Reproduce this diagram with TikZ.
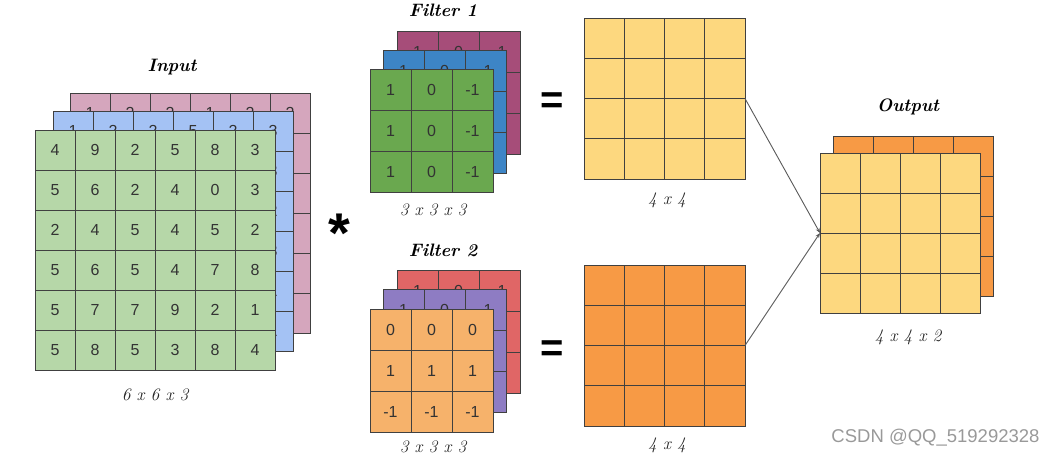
\documentclass[tikz,border=0pt]{standalone}
\usepackage{fontspec}
\setsansfont{Liberation Sans}
\usetikzlibrary{arrows.meta}
\definecolor{ingreen}{HTML}{B6D7A8}
\definecolor{inblue}{HTML}{A4C2F4}
\definecolor{inpink}{HTML}{D5A6BD}
\definecolor{fgreen}{HTML}{6AA84F}
\definecolor{fblue}{HTML}{3D85C6}
\definecolor{fmagenta}{HTML}{A64D79}
\definecolor{forange}{HTML}{F6B26B}
\definecolor{fpurple}{HTML}{8E7CC3}
\definecolor{fred}{HTML}{E06666}
\definecolor{mapyellow}{HTML}{FDD87F}
\definecolor{maporange}{HTML}{F79A45}

% one square layer: name, left, top, cells per side, cell size, fill
\newcommand{\gridlayer}[6]{%
  \node[layer, fill=#6, minimum size={#4*#5}, anchor=north west] (#1) at (#2,#3) {};
  \pgfmathtruncatemacro{\lastline}{#4-1}
  \foreach \k in {1,...,\lastline}{
    \draw[cellline] ({#2+\k*#5},#3) -- ({#2+\k*#5},{#3+#4*#5});
    \draw[cellline] (#2,{#3+\k*#5}) -- ({#2+#4*#5},{#3+\k*#5});
  }
}
% numbers of a layer, row by row: name, left, top, cells per side, cell size, list
\newcommand{\gridvalues}[6]{%
  \foreach \v [count=\j from 0] in {#6}{
    \pgfmathtruncatemacro{\cellrow}{floor(\j/#4)}
    \pgfmathtruncatemacro{\cellcol}{mod(\j,#4)}
    \node[cellnum] (#1-\cellrow-\cellcol) at ({#2+(\cellcol+0.5)*#5},{#3+(\cellrow+0.5)*#5}) {\v};
  }
}

\begin{document}
\begin{tikzpicture}[
    x=1pt, y=-1pt,
    layer/.style={draw=black!75, line width=0.8pt, inner sep=0pt, outer sep=0pt},
    cellline/.style={draw=black!75, line width=0.8pt},
    cellnum/.style={font=\sffamily\fontsize{16}{16}\selectfont, text=black!80},
    title/.style={font=\bfseries\itshape\fontsize{18}{18}\selectfont\addfontfeatures{Numbers=OldStyle}},
    dims/.style={font=\itshape\fontsize{17.5}{17.5}\selectfont\addfontfeatures{Numbers=OldStyle}, text=black!85},
    sign/.style={font=\sffamily\bfseries\fontsize{40}{40}\selectfont, inner sep=0pt, anchor=north},
    link/.style={-{Stealth[length=5pt,width=4pt]}, draw=black!65, line width=0.9pt}
]
    \useasboundingbox (0,0) rectangle (1046,456);

    % input 6 x 6 x 3
    \gridlayer{inR}{70}{93}{6}{40}{inpink}
    \gridvalues{inRv}{70}{93}{6}{40}{1,2,2,1,2,2,0,1,3,2,1,4,3,2,1,0,2,1,1,3,2,4,1,2,2,0,1,3,2,1,1,2,3,1,0,2}
    \gridlayer{inB}{53}{111}{6}{40}{inblue}
    \gridvalues{inBv}{53}{111}{6}{40}{1,2,2,5,2,3,4,1,3,2,0,3,2,5,1,4,3,2,1,0,2,5,1,3,3,2,4,1,2,1,2,1,3,0,2,1}
    \gridlayer{inG}{35}{130}{6}{40}{ingreen}
    \gridvalues{inGv}{35}{130}{6}{40}{4,9,2,5,8,3,5,6,2,4,0,3,2,4,5,4,5,2,5,6,5,4,7,8,5,7,7,9,2,1,5,8,5,3,8,4}
    \node[title] (inlabel) at (172,67) {Input};
    \node[dims] (indims) at (155,395) {6 x 6 x 3};

    \node[sign, font=\sffamily\bfseries\fontsize{56}{56}\selectfont] (conv) at (339,214) {*};

    % filter 1
    \gridlayer{fa3}{397}{31}{3}{41}{fmagenta}
    \gridvalues{fa3v}{397}{31}{3}{41}{1,0,-1,1,0,-1,1,0,-1}
    \gridlayer{fa2}{383}{50}{3}{41}{fblue}
    \gridvalues{fa2v}{383}{50}{3}{41}{1,0,-1,1,0,-1,1,0,-1}
    \gridlayer{fa1}{370}{69}{3}{41}{fgreen}
    \gridvalues{fa1v}{370}{69}{3}{41}{1,0,-1,1,0,-1,1,0,-1}
    \node[title] (falabel) at (443,10) {Filter 1};
    \node[dims] (fadims) at (433,210) {3 x 3 x 3};
    \node[sign] (eqa) at (552,92) {=};

    % filter 2
    \gridlayer{fb3}{397}{270}{3}{41}{fred}
    \gridvalues{fb3v}{397}{270}{3}{41}{1,0,-1,1,0,-1,1,0,-1}
    \gridlayer{fb2}{383}{289}{3}{41}{fpurple}
    \gridvalues{fb2v}{383}{289}{3}{41}{1,0,-1,1,0,-1,1,0,-1}
    \gridlayer{fb1}{370}{309}{3}{41}{forange}
    \gridvalues{fb1v}{370}{309}{3}{41}{0,0,0,1,1,1,-1,-1,-1}
    \node[title] (fblabel) at (443,250) {Filter 2};
    \node[dims] (fbdims) at (433,447) {3 x 3 x 3};
    \node[sign] (eqb) at (552,340) {=};

    % feature maps
    \gridlayer{mapa}{584}{18}{4}{40.25}{mapyellow}
    \node[dims] (mapadims) at (667,200) {4 x 4};
    \gridlayer{mapb}{584}{265}{4}{40.25}{maporange}
    \node[dims] (mapbdims) at (667,445) {4 x 4};

    % output 4 x 4 x 2
    \gridlayer{outB}{833}{136}{4}{40}{maporange}
    \gridlayer{out}{820}{153}{4}{40}{mapyellow}
    \node[title] (outlabel) at (908,107) {Output};
    \node[dims] (outdims) at (908,337) {4 x 4 x 2};

    \draw[link] (mapa.east) -- (out.west);
    \draw[link] (mapb.east) -- (out.west);

    \node[font=\sffamily\fontsize{18.5}{18.5}\selectfont, text=black!40, anchor=east] (mark) at (1043,438) {CSDN @QQ\_519292328};
\end{tikzpicture}
\end{document}
